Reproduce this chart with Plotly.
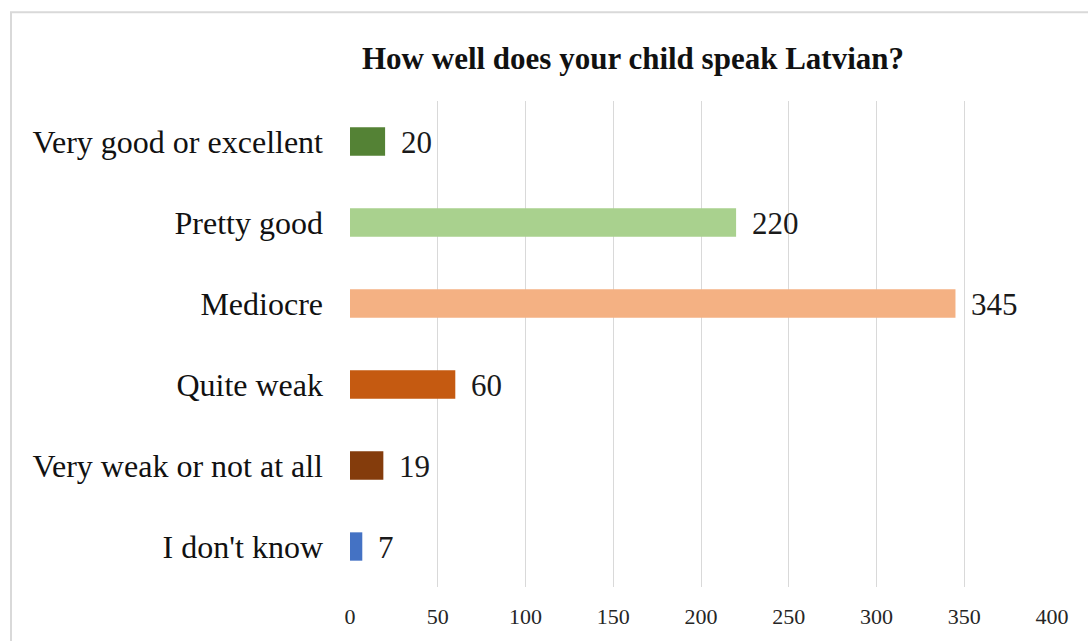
import plotly.graph_objects as go

categories = ["Very good or excellent", "Pretty good", "Mediocre", "Quite weak",
              "Very weak or not at all", "I don't know"]
values = [20, 220, 345, 60, 19, 7]
colors = ["#548235", "#A9D18E", "#F4B183", "#C55A11", "#843C0C", "#4472C4"]
x_ticks = [0, 50, 100, 150, 200, 250, 300, 350, 400]
title_text = "How well does your child speak Latvian?"

serif = "Liberation Serif, Times New Roman, serif"

W, H = 1088, 641
ML, MR, MT, MB = 350, 36, 101, 52
PW, PH = W - ML - MR, H - MT - MB


def px_to_paper_x(px):
    return (px - ML) / PW


def px_to_paper_y(py):
    return (H - MB - py) / PH


fig = go.Figure()
fig.add_trace(go.Bar(
    y=categories, x=values, orientation="h",
    marker=dict(color=colors, line=dict(width=0)),
    hoverinfo="skip",
))

for c, v in zip(categories, values):
    fig.add_annotation(x=v, y=c, text=str(v), showarrow=False,
                       xanchor="left", xshift=14, yshift=-1,
                       font=dict(family=serif, size=31, color="#1a1a1a"))

fig.add_annotation(x=px_to_paper_x(633), y=px_to_paper_y(58), xref="paper", yref="paper",
                   text=f"<b>{title_text}</b>", xanchor="center", yanchor="middle",
                   showarrow=False, font=dict(family=serif, size=31, color="#111111"))

fig.update_layout(
    width=W, height=H,
    margin=dict(l=ML, r=MR, t=MT, b=MB),
    paper_bgcolor="white", plot_bgcolor="white",
    bargap=0.65,
    showlegend=False,
    xaxis=dict(range=[0, 400], tickvals=x_ticks, showgrid=True, gridcolor="#d9d9d9",
               gridwidth=1, zeroline=False, showline=False,
               tickfont=dict(family=serif, size=22, color="#262626"), ticks="", ticklen=0,
               ticklabelstandoff=14),
    yaxis=dict(autorange="reversed", showgrid=False, zeroline=False, showline=False,
               tickfont=dict(family=serif, size=32, color="#111111"), ticks="",
               ticklabelstandoff=26),
    shapes=[dict(type="rect", xref="paper", yref="paper",
                 x0=px_to_paper_x(11), x1=px_to_paper_x(1200),
                 y0=px_to_paper_y(700), y1=px_to_paper_y(12),
                 line=dict(color="#d9d9d9", width=2), layer="below")],
)
fig.write_html("out.html", config={"displayModeBar": False},
               post_script="document.body.style.margin='0';document.body.style.overflow='hidden';")
